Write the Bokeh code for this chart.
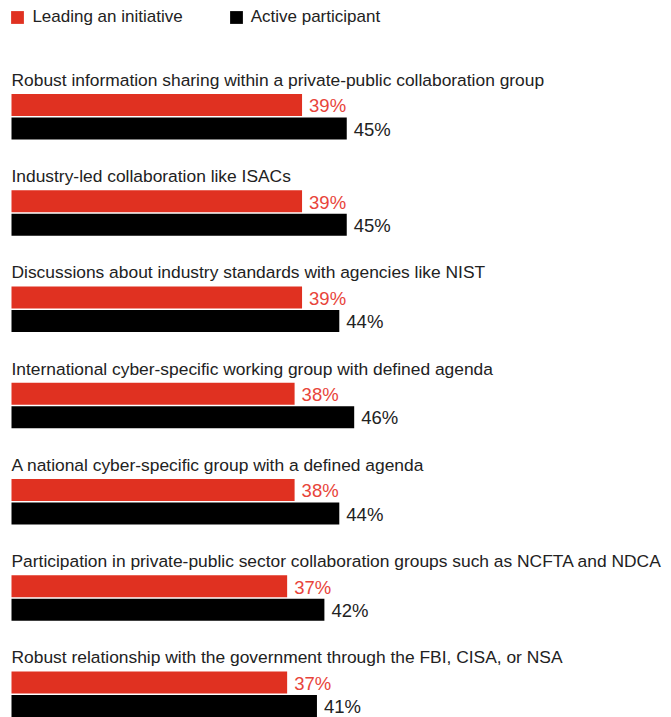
from bokeh.plotting import figure
from bokeh.models import ColumnDataSource, Range1d, Legend, LegendItem
from bokeh.core.properties import value
from bokeh.embed import file_html
from bokeh.resources import INLINE

categories = [
    "Robust information sharing within a private-public collaboration group",
    "Industry-led collaboration like ISACs",
    "Discussions about industry standards with agencies like NIST",
    "International cyber-specific working group with defined agenda",
    "A national cyber-specific group with a defined agenda",
    "Participation in private-public sector collaboration groups such as NCFTA and NDCA",
    "Robust relationship with the government through the FBI, CISA, or NSA",
]
leading = [39, 39, 39, 38, 38, 37, 37]
active = [45, 45, 44, 46, 44, 42, 41]
series_names = ["Leading an initiative", "Active participant"]

RED = "#E03121"
RED_TEXT = "#E8443A"
BLACK = "#000000"
TEXT = "#222222"
FONT = "Liberation Sans"

W, H = 671, 717
PX_PER_PCT = 7.45
X0 = 11
GROUP_TOP = 93.6
GROUP_STEP = 96.25
BAR_H = 21.8
BAR_GAP = 1.7

n = len(categories)
red_top = [GROUP_TOP + GROUP_STEP * i for i in range(n)]
red_y = [t + BAR_H / 2 for t in red_top]
blk_y = [t + BAR_H * 1.5 + BAR_GAP for t in red_top]
title_y = [t - 14.3 for t in red_top]

src = ColumnDataSource(dict(
    cat=categories, leading=leading, active=active,
    red_y=red_y, blk_y=blk_y, title_y=title_y,
    lead_lbl=[f"{v}%" for v in leading],
    act_lbl=[f"{v}%" for v in active],
    x_title=[0] * n,
))

p = figure(width=W, height=H, output_backend="svg", toolbar_location=None,
           x_range=Range1d(-X0 / PX_PER_PCT, (W - X0) / PX_PER_PCT),
           y_range=Range1d(H, 0), min_border=0)
p.axis.visible = False
p.grid.visible = False
p.outline_line_color = None
p.background_fill_color = "white"
p.border_fill_color = "white"

r_red = p.hbar(y="red_y", left=0, right="leading", height=BAR_H, source=src,
               fill_color=RED, line_color=None)
r_blk = p.hbar(y="blk_y", left=0, right="active", height=BAR_H, source=src,
               fill_color=BLACK, line_color=None)

p.text(x="x_title", y="title_y", text="cat", source=src,
       text_font=value(FONT), text_font_size="17.4px", text_color=TEXT,
       text_baseline="middle", text_align="left")
p.text(x="leading", y="red_y", text="lead_lbl", source=src, x_offset=7, y_offset=0.8,
       text_font=value(FONT), text_font_size="18.5px", text_color=RED_TEXT,
       text_baseline="middle", text_align="left")
p.text(x="active", y="blk_y", text="act_lbl", source=src, x_offset=7, y_offset=0.5,
       text_font=value(FONT), text_font_size="18.5px", text_color=TEXT,
       text_baseline="middle", text_align="left")

legend = Legend(items=[LegendItem(label=series_names[0], renderers=[r_red]),
                       LegendItem(label=series_names[1], renderers=[r_blk])],
                location=(9.4, H - 27), orientation="horizontal",
                margin=0, padding=0, spacing=45,
                glyph_width=16, glyph_height=16, label_standoff=7,
                label_text_font=FONT, label_text_font_size="17px",
                label_text_color=TEXT, label_height=16,
                border_line_alpha=0, background_fill_alpha=0)
p.add_layout(legend, "center")

html = file_html(p, INLINE)
html = html.replace("<body>", '<body style="margin:0">')
open("out.html", "w").write(html)
